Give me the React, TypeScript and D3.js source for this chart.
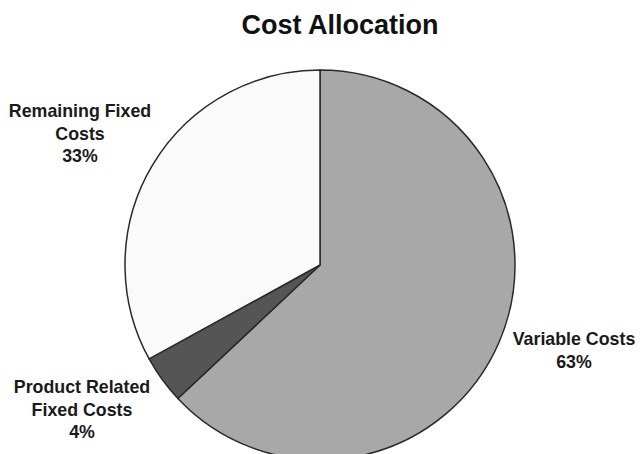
import React from "react";
import * as d3 from "d3";

const categories = ["Variable Costs", "Product Related Fixed Costs", "Remaining Fixed Costs"];
const values = [63, 4, 33];
const labelLines = [["Variable Costs", "63%"], ["Product Related", "Fixed Costs", "4%"], ["Remaining Fixed", "Costs", "33%"]];
const colors = ["#a8a8a8", "#555555", "#fafafa"];

const W = 640, H = 454;
const cx = 320, cy = 265, R = 195;
const labelPos = [
  { x: 574, y: 345 },
  { x: 82, y: 393 },
  { x: 80, y: 117 },
];

export default function App() {
  const pie = d3.pie<number>().sort(null).value((d) => d);
  const arcs = pie(values);
  const arc = d3.arc<d3.PieArcDatum<number>>().innerRadius(0).outerRadius(R);
  const font = "'Liberation Sans', Arial, Helvetica, sans-serif";
  return (
    <svg width={W} height={H} style={{ position: "absolute", left: 0, top: 0, background: "#fff" }}>
      <text x={340} y={34} textAnchor="middle" fontFamily={font} fontWeight="bold" fontSize={27} fill="#111">
        Cost Allocation
      </text>
      <g transform={`translate(${cx},${cy})`}>
        {arcs.map((a, i) => (
          <path key={categories[i]} d={arc(a) || ""} fill={colors[i]} stroke="#2a2a2a" strokeWidth={1.5} strokeLinejoin="round" />
        ))}
      </g>
      {labelLines.map((lines, i) => (
        <text key={categories[i]} textAnchor="middle" fontFamily={font} fontWeight="bold" fontSize={17.8} fill="#1a1a1a">
          {lines.map((l, j) => (
            <tspan key={j} x={labelPos[i].x} y={labelPos[i].y + j * 22.5}>{l}</tspan>
          ))}
        </text>
      ))}
    </svg>
  );
}
